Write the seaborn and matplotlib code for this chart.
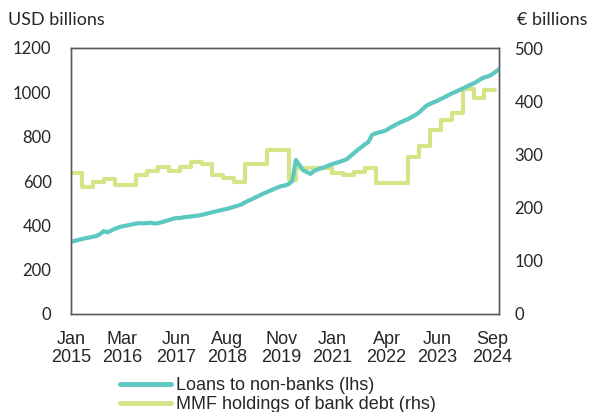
import matplotlib
matplotlib.use("Agg")
import matplotlib.pyplot as plt
import seaborn as sns
import pandas as pd
from matplotlib.lines import Line2D

# ---- data (monthly, Jan 2015 = 0) ----
loans = [325, 330, 334, 338, 342, 345, 348, 352, 360, 374,
         368, 376, 384, 390, 395, 398, 401, 405, 408, 410,
         409, 410, 412, 408, 410, 414, 419, 424, 429, 433,
         433, 436, 438, 440, 442, 444, 447, 451, 455, 459,
         463, 467, 471, 474, 479, 484, 489, 494, 504, 512,
         519, 527, 535, 543, 550, 557, 564, 571, 577, 580,
         586, 600, 695, 672, 648, 640, 632, 645, 652, 658,
         663, 670, 676, 681, 686, 692, 698, 712, 726, 740,
         752, 765, 776, 808, 815, 820, 823, 830, 840, 849,
         858, 866, 873, 880, 889, 898, 910, 925, 940, 948,
         955, 962, 970, 978, 987, 995, 1002, 1010, 1017, 1025,
         1033, 1040, 1050, 1060, 1068, 1072, 1080, 1092, 1105]

mmf = [265, 265, 265, 239, 239, 239, 248, 248, 248, 253,
       253, 253, 242, 242, 242, 242, 242, 242, 261, 261,
       261, 269, 269, 269, 276, 276, 276, 269, 269, 269,
       276, 276, 276, 286, 286, 286, 282, 282, 282, 261,
       261, 261, 256, 256, 256, 248, 248, 248, 282, 282,
       282, 282, 282, 282, 308, 308, 308, 308, 308, 308,
       252, 252, 274, 274, 274, 274, 274, 274, 274, 274,
       274, 274, 265, 265, 265, 261, 261, 261, 267, 267,
       267, 274, 274, 274, 246, 246, 246, 246, 246, 246,
       246, 246, 246, 295, 295, 295, 316, 316, 316, 346,
       346, 346, 365, 365, 365, 378, 378, 378, 423, 423,
       423, 406, 406, 406, 421, 421, 421, 421]

tick_pos = [0, 14, 29, 43, 58, 72, 87, 101, 116]
tick_labels = ["Jan\n2015", "Mar\n2016", "Jun\n2017", "Aug\n2018", "Nov\n2019",
               "Jan\n2021", "Apr\n2022", "Jun\n2023", "Sep\n2024"]
series_names = ["Loans to non-banks (lhs)", "MMF holdings of bank debt (rhs)"]

df_l = pd.DataFrame({"m": range(len(loans)), "v": loans})
df_m = pd.DataFrame({"m": range(len(mmf)), "v": mmf})

teal = "#5cc8c0"
green = "#d5e486"
frame = "#5a5a5a"

sns.set_style("white")
plt.rcParams["font.family"] = ["Lato", "DejaVu Sans"]

fig = plt.figure(figsize=(5.9, 4.12), dpi=100)
ax = fig.add_axes([71/590, 1 - 314/412, (499 - 71)/590, (314 - 48)/412])
ax2 = ax.twinx()

sns.lineplot(data=df_m, x="m", y="v", ax=ax2, color=green, linewidth=3.0,
             drawstyle="steps-post", legend=False)
sns.lineplot(data=df_l, x="m", y="v", ax=ax, color=teal, linewidth=3.0,
             legend=False)
ax.set_zorder(ax2.get_zorder() + 1)
ax.patch.set_visible(False)

ax.set_xlim(0, 118)
ax.set_ylim(0, 1200)
ax2.set_ylim(0, 500)
ax.set_yticks(range(0, 1201, 200))
ax2.set_yticks(range(0, 501, 100))
ax.set_xticks(tick_pos)
ax.set_xticklabels(tick_labels, family="Liberation Sans", fontsize=13,
                   linespacing=1.1)
ax.set_xlabel("")
ax.set_ylabel("")
ax2.set_ylabel("")
ax.tick_params(axis="both", length=0)
ax.tick_params(axis="y", labelsize=12, pad=14)
ax.tick_params(axis="x", pad=12)
ax2.tick_params(axis="y", length=0, labelsize=12, pad=11)

for a in (ax, ax2):
    for s in a.spines.values():
        s.set_color(frame)
        s.set_linewidth(1.0)
        s.set_visible(True)

fig.text(8/590, 1 - 12/412, "USD billions", ha="left", va="top", fontsize=13)
fig.text(517/590, 1 - 12/412, "€ billions", ha="left", va="top", fontsize=13)

handles = [Line2D([0], [0], color=teal, lw=3.5), Line2D([0], [0], color=green, lw=3.5)]
fig.legend(handles, series_names, loc="upper left",
           bbox_to_anchor=(109/590, 1 - 366/412), frameon=False,
           prop={"family": "Liberation Sans", "size": 13},
           handlelength=2.85, handletextpad=0.28, labelspacing=0.12,
           borderpad=0.1)

fig.savefig("out.png", dpi=100)
